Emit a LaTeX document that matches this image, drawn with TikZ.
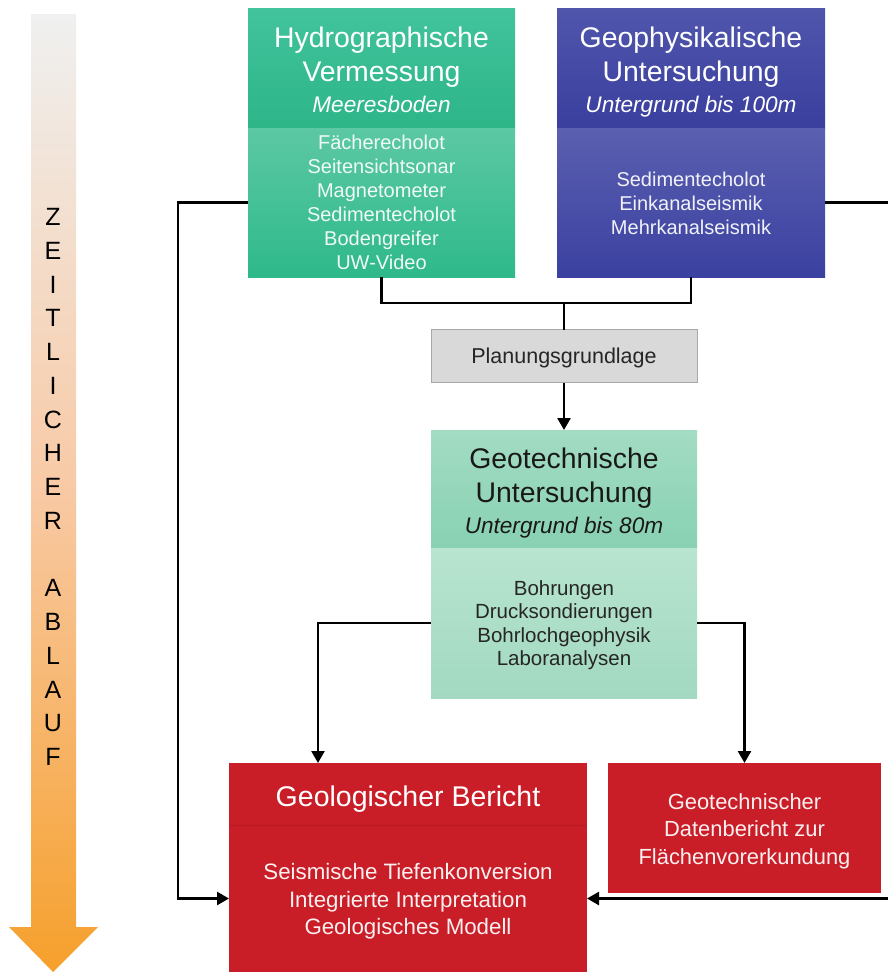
\documentclass[tikz,border=0pt]{standalone}
\usepackage{fontspec}
\setmainfont{Liberation Sans}
\usetikzlibrary{arrows.meta}
\newcommand\subfontcmd{\itshape\fontsize{22.6}{26}\selectfont}
\definecolor{hgTop}{HTML}{42C39C}
\definecolor{hgBot}{HTML}{2DB588}
\definecolor{hbTop}{HTML}{5CC8A4}
\definecolor{hbBot}{HTML}{2EB98A}
\definecolor{gpTop}{HTML}{5055AC}
\definecolor{gpBot}{HTML}{3A3F9E}
\definecolor{gbTop}{HTML}{5A5FB0}
\definecolor{gbBot}{HTML}{3B41A0}
\definecolor{gtTop}{HTML}{A3DCC3}
\definecolor{gtBot}{HTML}{88D1B2}
\definecolor{gtbTop}{HTML}{B8E4D0}
\definecolor{gtbBot}{HTML}{A2D9C0}
\definecolor{repRed}{HTML}{C91E28}
\definecolor{repLine}{HTML}{B81A23}
\definecolor{planFill}{HTML}{D9D9D9}
\definecolor{planLine}{HTML}{A8A8A8}
\definecolor{arrTop}{HTML}{EFF0F0}
\definecolor{arrMid}{HTML}{F8C9A4}
\definecolor{arrBot}{HTML}{F6A02C}
\begin{document}
\begin{tikzpicture}[x=1pt,y=-1pt,
  boxbase/.style={inner sep=0pt, outer sep=0pt},
  txt/.style={inner sep=0pt, outer sep=0pt, align=center},
  conn/.style={line width=2.5pt, black, line join=miter},
  arr/.style={conn, -{Triangle[width=13pt,length=12pt]}},
  titlefont/.style={font=\fontsize{28.4}{34}\selectfont},
  bodyfont/.style={font=\fontsize{20}{24}\selectfont}]
\useasboundingbox (0,0) rectangle (887,972);

% time arrow
\shade[top color=arrTop, bottom color=arrBot, middle color=arrMid]
  (31,14) -- (76,14) -- (76,927) -- (98,927) -- (53,972) -- (9,927) -- (31,927) -- cycle;
\node[txt, font=\fontsize{25}{33.75}\selectfont] (zeit) at (53,487)
  {Z\\E\\I\\T\\L\\I\\C\\H\\E\\R\\[33.75pt]A\\B\\L\\A\\U\\F};

% Hydrographische Vermessung
\node[boxbase, top color=hgTop, bottom color=hgBot, minimum width=267pt, minimum height=120pt] (hydH) at (381.5,68) {};
\node[boxbase, top color=hbTop, bottom color=hbBot, minimum width=267pt, minimum height=149pt] (hydB) at (381.5,202.5) {};
\node[txt, text=white, titlefont] (hydHt) at (381.5,70)
  {Hydrographische\\Vermessung\\[-3pt]{\subfontcmd Meeresboden}};
\node[txt, text=white!93!hbBot, bodyfont] (hydBt) at (381.5,202.5)
  {Fächerecholot\\Seitensichtsonar\\Magnetometer\\Sedimentecholot\\Bodengreifer\\UW-Video};

% Geophysikalische Untersuchung
\node[boxbase, top color=gpTop, bottom color=gpBot, minimum width=268pt, minimum height=120pt] (geoH) at (691,68) {};
\node[boxbase, top color=gbTop, bottom color=gbBot, minimum width=268pt, minimum height=149pt] (geoB) at (691,202.5) {};
\node[txt, text=white, titlefont] (geoHt) at (691,72)
  {Geophysikalische\\Untersuchung\\[-3pt]{\subfontcmd Untergrund bis 100m}};
\node[txt, text=white!93!gbBot, bodyfont] (geoBt) at (691,203)
  {Sedimentecholot\\Einkanalseismik\\Mehrkanalseismik};

% Planungsgrundlage
\node[boxbase, fill=planFill, draw=planLine, line width=0.8pt, minimum width=266pt, minimum height=53pt] (plan) at (564,356) {};
\node[txt, text=black!85, font=\fontsize{21.5}{24}\selectfont] (plant) at (564,358) {Planungsgrundlage};

% Geotechnische Untersuchung
\node[boxbase, top color=gtTop, bottom color=gtBot, minimum width=266pt, minimum height=118pt] (gtH) at (564,489) {};
\node[boxbase, top color=gtbTop, bottom color=gtbBot, minimum width=266pt, minimum height=150pt] (gtB) at (564,623) {};
\node[txt, text=black!90, titlefont] (gtHt) at (564,493)
  {Geotechnische\\Untersuchung\\[-3pt]{\subfontcmd Untergrund bis 80m}};
\node[txt, text=black!85, font=\fontsize{20.5}{23.4}\selectfont] (gtBt) at (564,625)
  {Bohrungen\\Drucksondierungen\\Bohrlochgeophysik\\Laboranalysen};

% Geologischer Bericht
\node[boxbase, fill=repRed, minimum width=358pt, minimum height=62pt] (geolH) at (408,794) {};
\node[boxbase, fill=repRed, minimum width=358pt, minimum height=147pt] (geolB) at (408,898.5) {};
\draw[repLine, line width=0.8pt] (geolH.south west) -- (geolH.south east);
\node[txt, text=white, font=\fontsize{28.5}{30}\selectfont] (geolHt) at (408,799) {Geologischer Bericht};
\node[txt, text=white!93!repRed, font=\fontsize{22.3}{27.5}\selectfont] (geolBt) at (408,901.5)
  {Seismische Tiefenkonversion\\Integrierte Interpretation\\Geologisches Modell};

% Geotechnischer Datenbericht
\node[boxbase, fill=repRed, minimum width=273pt, minimum height=130pt] (datb) at (744.5,828) {};
\node[txt, text=white!93!repRed, font=\fontsize{21.9}{27.5}\selectfont] (datbt) at (744.5,831)
  {Geotechnischer\\Datenbericht zur\\Flächenvorerkundung};

% connectors
\coordinate (jn) at (564,303);
\coordinate (rc) at (891,500);
\coordinate (gl) at (318,763);
\draw[conn] (hydB.south) |- (geoB.south |- jn) -- (geoB.south);
\draw[conn] (jn) -- (plan.north);
\draw[arr] (plan.south) -- (gtH.north);
\draw[arr] (hydB.west) -- ++(-70,0) |- (geolB.west);
\draw[arr] (geoB.east) -- (geoB.east -| rc) |- (geolB.east);
\draw[arr] (gtB.west) -| (gl);
\draw[arr] (gtB.east) -| (datb.north);
\end{tikzpicture}
\end{document}
